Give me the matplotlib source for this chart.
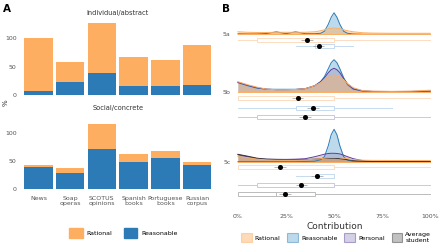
import numpy as np
import matplotlib
matplotlib.use("Agg")
import matplotlib.pyplot as plt
from matplotlib.patches import Patch

# ---- Panel A data ----
sources = ["News", "Soap\noperas", "SCOTUS\nopinions", "Spanish\nbooks", "Portuguese\nbooks", "Russian\ncorpus"]
abstract_reasonable = [6, 22, 38, 15, 16, 18]
abstract_rational = [94, 36, 89, 52, 45, 70]
concrete_reasonable = [40, 29, 72, 48, 56, 44]
concrete_rational = [4, 9, 43, 14, 12, 4]

# ---- Panel B data ----
prompts = ["5a", "5b", "5c"]
grid = [0, 5, 10, 15, 20, 25, 30, 35, 40, 43, 45, 47, 48.5, 50, 51.5, 53, 55, 57, 60, 65, 70, 80, 90, 100]
dens_5a = {
    "Reasonable": [0.5, 0.3, 0.3, 0.8, 2.5, 0.6, 2.5, 0.6, 0.6, 1, 3, 10, 17, 21.5, 17, 10, 3, 1, 0.3, 0, 0, 0, 0, 0],
    "Rational": [2.5, 2, 1.8, 1.8, 2, 2, 2, 2, 2.5, 3.5, 4.5, 5.5, 6, 6.2, 6, 5.5, 4.5, 3.5, 2.5, 1.5, 1.2, 1, 1, 1],
}
dens_5b = {
    "Reasonable": [9, 6, 3.5, 2.5, 2.4, 2.4, 2.4, 3, 6, 10, 15, 23, 29, 32, 29, 23, 14, 7, 2.5, 0.5, 0.2, 0.1, 0, 0],
    "Personal": [9.5, 6.5, 4, 2.5, 2, 2, 2.2, 3, 6, 10, 14, 19, 22, 23.4, 22, 19, 13, 8, 3, 0.8, 0.3, 0.2, 0.3, 0.8],
    "Rational": [10, 7, 4.5, 2.5, 2, 2, 2.2, 3, 6, 9, 12, 14.5, 16, 16.7, 16, 14.5, 12, 8, 4, 1, 0.5, 0.3, 0.5, 1.5],
}
dens_5c = {
    "Reasonable": [0, 0, 0, 0, 0, 0, 0, 0.2, 0.5, 2, 5, 16, 27, 32.4, 27, 16, 5, 1.5, 0.3, 0, 0, 0, 0, 0],
    "Personal": [7, 5, 3, 2.5, 2.3, 2.3, 2.5, 3, 5, 6.5, 7.5, 8.2, 8.4, 8.4, 8.2, 7.8, 6.5, 5, 3, 1, 0.3, 0.1, 0, 0],
    "Average\nstudent": [7.4, 5.5, 3.5, 2.5, 2.3, 2.2, 2.2, 2.2, 2.5, 3, 3.3, 3.5, 3.5, 3.5, 3.3, 3, 2.5, 2, 1.2, 0.5, 0.2, 0.1, 0, 0],
    "Rational": [5, 4, 2.5, 1.8, 1.5, 1.5, 1.5, 1.8, 2.5, 3, 3.5, 4, 4.2, 4.3, 4.2, 4, 3.5, 3, 2, 1.5, 1.3, 1.2, 1.2, 1.2],
}
densities = [dens_5a, dens_5b, dens_5c]

# box stats per prompt: (group, q1, med, q3, whislo, whishi, mean)
boxes_5a = [("Rational", 10, 50, 50, 0, 100, 36), ("Reasonable", 40, 50, 50, 30, 60, 42)]
boxes_5b = [("Rational", 0, 50, 50, 0, 100, 31), ("Reasonable", 30, 50, 50, 0, 80, 39),
            ("Personal", 10, 50, 50, 0, 100, 35)]
boxes_5c = [("Rational", 0, 50, 50, 0, 100, 22), ("Reasonable", 40, 50, 50, 30, 50, 41),
            ("Personal", 10, 50, 50, 0, 100, 33), ("Average\nstudent", 0, 20, 40, 0, 100, 24.5)]
boxes = [boxes_5a, boxes_5b, boxes_5c]

# ---- styling ----
col_rational = "#FDAE61"
col_reasonable = "#2C7BB6"
edge = {"Rational": "#FDAE61", "Reasonable": "#2C7BB6", "Personal": "#5E3C99", "Average\nstudent": "#333333"}
fill = {"Rational": "#FDAE61", "Reasonable": "#6BAED6", "Personal": "#9E9AC8", "Average\nstudent": "#777777"}
light = {"Rational": "#FDDCC0", "Reasonable": "#C6DBEF", "Personal": "#CBC9E2", "Average\nstudent": "#BBBBBB"}
txt = "#555555"

baselines = [165.7, 108.3, 38.3]
box_rows = [[160, 154], [101.7, 92.3, 83.3], [33.3, 24, 15, 6]]

fig = plt.figure(figsize=(4.4, 2.45), dpi=100)

# ---- Panel A ----
x = np.arange(1, len(sources) + 1)
ax_top = fig.add_axes([0.044, 0.598, 0.447, 0.323])
ax_bot = fig.add_axes([0.044, 0.212, 0.447, 0.323])
for ax, reas, rat, title in [(ax_top, abstract_reasonable, abstract_rational, "Individual/abstract"),
                             (ax_bot, concrete_reasonable, concrete_rational, "Social/concrete")]:
    ax.bar(x, reas, width=0.9, color=col_reasonable)
    ax.bar(x, rat, bottom=reas, width=0.9, color=col_rational)
    ax.set_xlim(0.4, 6.6)
    ax.set_ylim(-6.35, 133.35)
    ax.set_yticks([0, 50, 100])
    ax.set_title(title, fontsize=4.8, color="#333333", pad=3)
    for s in ax.spines.values():
        s.set_visible(False)
    ax.tick_params(length=0, labelsize=4.5, labelcolor=txt, pad=2)
ax_top.set_xticks([])
ax_bot.set_xticks(x)
ax_bot.set_xticklabels(sources, linespacing=1.1)
fig.text(0.012, 0.58, "%", rotation=90, fontsize=5, color="#333333", ha="center", va="center")
fig.text(0.007, 0.965, "A", fontsize=7.5, fontweight="bold", ha="left", va="center")

fig.legend([Patch(color=col_rational), Patch(color=col_reasonable)], ["Rational", "Reasonable"],
           loc="center", bbox_to_anchor=(0.28, 0.048), ncol=2, frameon=False, fontsize=4.5,
           handlelength=2.2, handleheight=2.2, columnspacing=1.8, handletextpad=0.6)

# ---- Panel B ----
axb = fig.add_axes([0.5276, 0.1837, 0.4654, 0.7837])
gx = np.array(grid)
for base, dens in zip(baselines, densities):
    for name, vals in dens.items():
        y = base + np.array(vals)
        axb.fill_between(gx, base, y, color=fill[name], alpha=0.45, lw=0)
        axb.plot(gx, y, color=edge[name], lw=0.7)
    axb.plot([0, 100], [base, base], color=col_rational, lw=0.7)

for rows, stats in zip(box_rows, boxes):
    for yrow, (name, q1, med, q3, lo, hi, mean) in zip(rows, stats):
        st = [dict(q1=q1, med=med, q3=q3, whislo=lo, whishi=hi, mean=mean, fliers=[])]
        axb.bxp(st, positions=[yrow], widths=4, orientation="horizontal", showcaps=False,
                showmeans=False, patch_artist=True,
                boxprops=dict(facecolor="white", edgecolor=light[name], lw=0.7),
                whiskerprops=dict(color=light[name], lw=0.7),
                medianprops=dict(color=light[name], lw=0.7))
        axb.errorbar([mean], [yrow], xerr=[[3]], color="#999999", lw=0.5, capsize=0)
        axb.plot([mean], [yrow], "o", color="black", ms=2.6, zorder=5)

axb.set_xlim(-3, 103.5)
axb.set_ylim(0, 192)
axb.set_yticks(baselines)
axb.set_yticklabels(prompts)
axb.set_xticks([0, 25, 50, 75, 100])
axb.set_xticklabels(["0%", "25%", "50%", "75%", "100%"])
axb.tick_params(length=0, labelsize=4.5, labelcolor=txt)
axb.tick_params(axis="x", pad=10)
axb.tick_params(axis="y", pad=1)
axb.set_xlabel("Contribution", fontsize=6.5, color="#333333", labelpad=2)
for s in axb.spines.values():
    s.set_visible(False)
fig.text(0.505, 0.965, "B", fontsize=7.5, fontweight="bold", ha="left", va="center")

names = ["Rational", "Reasonable", "Personal", "Average\nstudent"]
handles = [Patch(facecolor=fill[n], alpha=0.45, edgecolor=edge[n], lw=0.8) for n in names]
fig.legend(handles, names, loc="center", bbox_to_anchor=(0.764, 0.03), ncol=4, frameon=False,
           fontsize=4.5, handlelength=1.7, handleheight=2.0, columnspacing=1.1, handletextpad=0.5)

fig.savefig("out.png", dpi=100)
